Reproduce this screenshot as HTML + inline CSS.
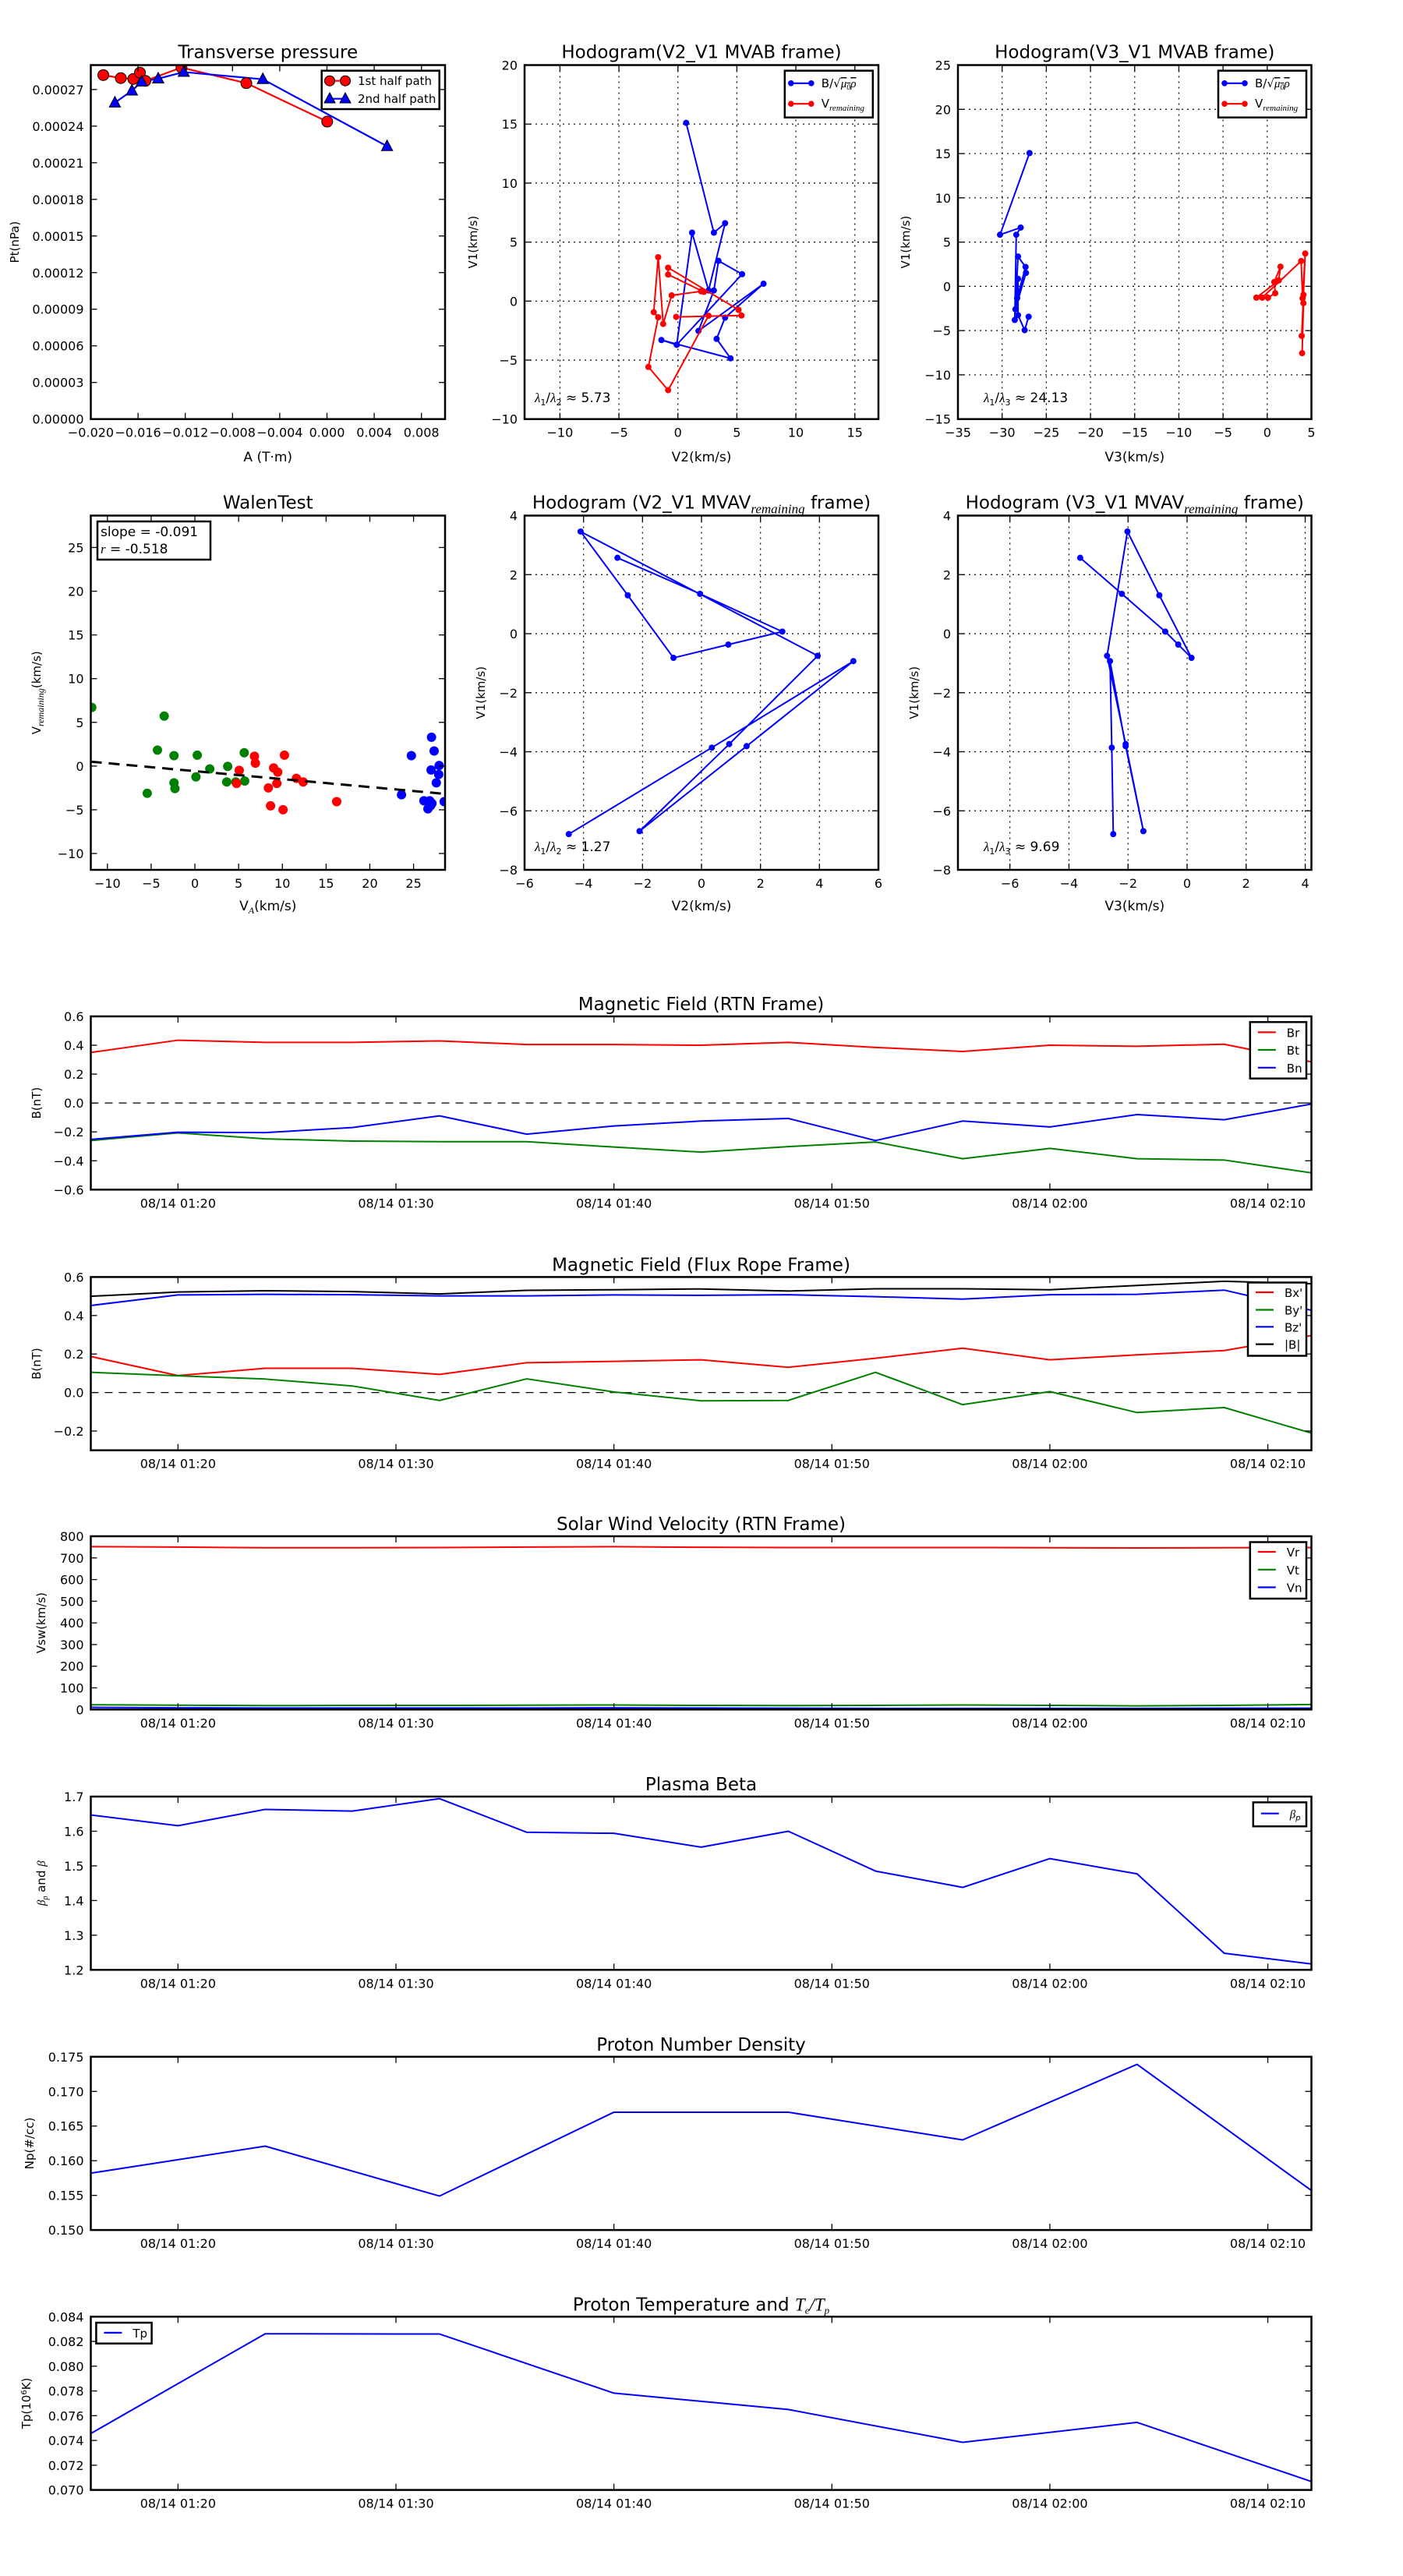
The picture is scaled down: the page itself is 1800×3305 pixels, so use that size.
<!DOCTYPE html>
<html><head><meta charset="utf-8"><title>Flux rope analysis</title>
<style>
html,body{margin:0;padding:0;background:#fff;}
svg text{font-family:"DejaVu Sans","Liberation Sans",sans-serif;fill:#000;}
</style></head>
<body>
<svg id="fig" xmlns="http://www.w3.org/2000/svg" width="1800" height="3300" viewBox="0 0 1800 3300">
<rect x="0" y="0" width="1800" height="3300" fill="#fff"/>
</svg>
<script>
// ---------- Transverse pressure ----------
const tpRedA = [-0.01894,-0.01746,-0.01640,-0.01584,-0.01538,-0.01232,-0.00683,0.00002];
const tpRedPt = [0.0002818,0.0002793,0.0002786,0.0002838,0.0002771,0.0002880,0.0002752,0.0002437];
const tpBlueA = [-0.01796,-0.01652,-0.01569,-0.01429,-0.01213,-0.00543,0.00509];
const tpBluePt = [0.0002592,0.0002690,0.0002764,0.0002789,0.0002843,0.0002784,0.0002235];
// ---------- Hodogram V2-V1 MVAB ----------
const h1BlueV2 = [0.7,3.05,4.0,2.6,1.2,-0.1,-1.4,4.46,3.28,4.0,7.26,1.74,3.05,3.44,5.44,-0.1];
const h1BlueV1 = [15.1,5.8,6.6,0.9,5.8,-3.7,-3.3,-4.85,-3.2,-1.4,1.47,-2.53,0.9,3.41,2.28,-3.7];
const h1RedV2 = [-0.15,5.39,5.14,-0.83,-0.83,2.2,1.96,-0.53,-1.25,-1.67,-2.05,-1.67,-2.5,-0.83,2.6];
const h1RedV1 = [-1.34,-1.22,-0.74,2.83,2.25,0.78,0.83,0.48,-1.93,3.72,-0.94,-1.37,-5.58,-7.55,-1.24];
// ---------- Hodogram V3-V1 MVAB ----------
const h2BlueV3 = [-26.9,-30.24,-27.9,-28.4,-28.57,-28.2,-27.35,-28.3,-27.3,-28.5,-28.2,-28.2,-27.45,-27.0];
const h2BlueV1 = [15.06,5.83,6.64,5.83,-3.8,3.37,2.19,-1.34,1.52,-2.59,0.85,-3.26,-4.95,-3.43];
const h2RedV3 = [0.09,0.9,0.8,1.5,1.3,-1.23,-0.57,3.84,4.0,4.3,4.1,3.9,4.1,3.95];
const h2RedV1 = [-1.28,-0.78,0.5,2.22,0.67,-1.28,-1.28,2.86,-1.35,3.71,-0.95,-5.6,-1.9,-7.55];
// ---------- Walen test ----------
const walGreenVA = [-11.79,-3.51,-4.28,-2.39,0.27,5.64,-5.45,-2.39,-2.28,0.12,1.7,3.75,3.64,4.67,5.69];
const walGreenV = [6.71,5.72,1.83,1.19,1.25,1.53,-3.11,-1.92,-2.57,-1.24,-0.32,-0.04,-1.82,-1.82,-1.71];
const walRedVA = [6.81,6.91,10.24,5.07,9.0,9.47,11.61,12.38,4.77,8.4,9.37,8.65,10.08,16.21];
const walRedV = [1.12,0.33,1.25,-0.49,-0.21,-0.69,-1.41,-1.82,-1.99,-2.5,-1.99,-4.55,-4.99,-4.07];
const walBlueVA = [27.05,27.35,24.75,27.0,27.92,27.87,27.6,23.62,28.5,26.18,26.84,27.1,26.94,26.64];
const walBlueV = [3.3,1.73,1.19,-0.45,0.06,-0.96,-1.92,-3.28,-4.07,-3.97,-3.97,-4.27,-4.55,-4.89];
const walFitSlope = -0.091;
const walFitIntercept = -0.58;
// ---------- Hodograms MVAV ----------
const mvV2 = [-2.85,-0.05,2.74,0.91,-0.95,-2.5,-4.1,3.94,0.94,-2.1,1.53,5.15,0.35,-4.5];
const mvV1 = [2.57,1.35,0.07,-0.37,-0.82,1.3,3.46,-0.75,-3.74,-6.69,-3.81,-0.93,-3.86,-6.79];
const mvV3 = [-3.62,-2.21,-0.74,-0.3,0.15,-0.94,-2.02,-2.71,-2.08,-1.48,-2.08,-2.61,-2.55,-2.5];
// ---------- Time series (minutes after 01:00) ----------
const timeMin = [16,20,24,28,32,36,40,44,48,52,56,60,64,68,72];
const timeTicks = [20,30,40,50,60,70];
const timeTickLabels = ["08/14 01:20","08/14 01:30","08/14 01:40","08/14 01:50","08/14 02:00","08/14 02:10"];
const Br = [0.35,0.435,0.42,0.42,0.43,0.405,0.405,0.40,0.42,0.385,0.357,0.40,0.393,0.407,0.285];
const Bt = [-0.26,-0.207,-0.248,-0.264,-0.268,-0.268,-0.305,-0.34,-0.302,-0.27,-0.386,-0.314,-0.386,-0.395,-0.484];
const Bn = [-0.252,-0.202,-0.205,-0.17,-0.089,-0.216,-0.159,-0.125,-0.107,-0.26,-0.125,-0.166,-0.08,-0.116,-0.007];
const Bxp = [0.187,0.088,0.126,0.126,0.094,0.155,0.162,0.17,0.131,0.178,0.23,0.17,0.196,0.218,0.296];
const Byp = [0.105,0.087,0.07,0.034,-0.041,0.071,0.003,-0.043,-0.041,0.105,-0.063,0.005,-0.104,-0.078,-0.211];
const Bzp = [0.452,0.507,0.51,0.508,0.502,0.502,0.507,0.505,0.508,0.498,0.485,0.508,0.51,0.532,0.427];
const Bmag = [0.5,0.522,0.529,0.524,0.512,0.531,0.534,0.538,0.527,0.539,0.539,0.534,0.556,0.578,0.565];
const Vr = [752,750,747,747,748,750,752,749,748,748,748,747,746,747,748];
const Vt = [22,20,18,19,19,20,21,19,18,19,21,19,17,19,23];
const Vn = [10,8,7,7,7,7,8,7,6,5,5,5,5,6,6];
const betaP = [1.647,1.616,1.663,1.658,1.694,1.597,1.594,1.554,1.6,1.485,1.438,1.521,1.477,1.248,1.217];
const npTime = [16,24,32,40,48,56,64,72];
const Np = [0.1582,0.1621,0.1549,0.1670,0.1670,0.1630,0.1739,0.1557];
const Tp = [0.07456,0.08262,0.0826,0.07782,0.0765,0.07385,0.07546,0.07068];

const NS = 'http://www.w3.org/2000/svg';
const svg = document.getElementById('fig');
function mk(tag, attrs, parent){
  const e = document.createElementNS(NS, tag);
  for (const k in attrs) e.setAttribute(k, attrs[k]);
  parent.appendChild(e);
  return e;
}
function txt(parent, x, y, s, size, anchor, extra){
  const t = mk('text', Object.assign({x:x, y:y, 'font-size':size, 'text-anchor':anchor||'start'}, extra||{}), parent);
  t.textContent = s;
  return t;
}
let clipN = 0;
function axes(p){
  const g = mk('g', {}, svg);
  
  
  const sx = v => p.L + (v - p.x0) / (p.x1 - p.x0) * (p.R - p.L);
  const sy = v => p.B - (v - p.y0) / (p.y1 - p.y0) * (p.B - p.T);
  const id = 'clip' + (clipN++);
  const cp = mk('clipPath', {id:id}, g);
  mk('rect', {x:p.L, y:p.T, width:p.R-p.L, height:p.B-p.T}, cp);
  if (p.grid){
    p.xt.forEach(v => {
      const l = mk('line', {x1:sx(v), x2:sx(v), y1:p.T, y2:p.B, stroke:'#000', 'stroke-width':1.2, 'stroke-dasharray':'2,5'}, g);
      
      
    });
    p.yt.forEach(v => {
      const l = mk('line', {x1:p.L, x2:p.R, y1:sy(v), y2:sy(v), stroke:'#000', 'stroke-width':1.2, 'stroke-dasharray':'2,5'}, g);
      
      
    });
  }
  const data = mk('g', {'clip-path':'url(#'+id+')'}, g);
  
  
  const tl = 8;
  p.xt.forEach((v, i) => {
    const x = sx(v);
    mk('line', {x1:x, x2:x, y1:p.B, y2:p.B-tl, stroke:'#000', 'stroke-width':1.3}, g);
    mk('line', {x1:x, x2:x, y1:p.T, y2:p.T+tl, stroke:'#000', 'stroke-width':1.3}, g);
    const t = txt(g, x, p.B + 23, p.xtl[i], p.fs || 16, 'middle');
    
    
  });
  p.yt.forEach((v, i) => {
    const y = sy(v);
    mk('line', {x1:p.L, x2:p.L+tl, y1:y, y2:y, stroke:'#000', 'stroke-width':1.3}, g);
    mk('line', {x1:p.R, x2:p.R-tl, y1:y, y2:y, stroke:'#000', 'stroke-width':1.3}, g);
    const t = txt(g, p.L - 9, y + 6, p.ytl[i], p.fs || 16, 'end');
    
    
  });
  const fr = mk('rect', {x:p.L, y:p.T, width:p.R-p.L, height:p.B-p.T, fill:'none', stroke:'#000', 'stroke-width':2.5}, g);
  
  
  if (p.title){
    const t = txt(g, (p.L+p.R)/2, p.T - (p.titleGap||9), '', 23, 'middle');
    t.innerHTML = p.title;
    
    
  }
  if (p.xlabel){
    const t = txt(g, (p.L+p.R)/2, p.xlabelY, '', 17, 'middle');
    t.innerHTML = p.xlabel;
    
    
  }
  if (p.ylabel){
    const t = txt(g, 0, 0, '', p.ylfs || 15, 'middle', {transform:'translate('+p.ylabelX+','+((p.T+p.B)/2)+') rotate(-90)'});
    t.innerHTML = p.ylabel;
    
    
  }
  return {g:g, data:data, sx:sx, sy:sy, p:p};
}
function range(a, b, s){ const r=[]; for (let v=a; v<=b+1e-9; v+=s) r.push(Math.round(v*1e6)/1e6); return r; }
function polyline(ax, xs, ys, color, w){
  const pts = xs.map((x, i) => ax.sx(x).toFixed(2) + ',' + ax.sy(ys[i]).toFixed(2)).join(' ');
  return mk('polyline', {points:pts, fill:'none', stroke:color, 'stroke-width':w||2, 'stroke-linejoin':'round'}, ax.data);
}
function dots(ax, xs, ys, color, r, stroke){
  const gg = mk('g', {}, ax.data);
  xs.forEach((x, i) => {
    const c = mk('circle', {cx:ax.sx(x), cy:ax.sy(ys[i]), r:r, fill:color, stroke:stroke||'none', 'stroke-width':1}, gg);
    
    
  });
  return gg;
}
function tris(ax, xs, ys, color, s){
  const gg = mk('g', {}, ax.data);
  xs.forEach((x, i) => {
    const cx = ax.sx(x), cy = ax.sy(ys[i]);
    const t = mk('polygon', {points:(cx)+','+(cy-s)+' '+(cx-s*0.9)+','+(cy+s*0.7)+' '+(cx+s*0.9)+','+(cy+s*0.7), fill:color, stroke:'#000', 'stroke-width':1}, gg);
    
    
  });
  return gg;
}
function legendBox(x, y, w, h){
  const g = mk('g', {}, svg);
  mk('rect', {x:x, y:y, width:w, height:h, fill:'#fff', stroke:'#000', 'stroke-width':2.5}, g);
  return g;
}
const sub = s => '<tspan font-family="Liberation Serif, DejaVu Serif, serif" font-style="italic" font-size="17" dy="6">'+s+'</tspan><tspan dy="-6"> frame)</tspan>';
const lam = (a,b) => '<tspan font-family="Liberation Serif, DejaVu Serif, serif" font-style="italic">λ</tspan><tspan font-size="11" dy="4">'+a+'</tspan><tspan dy="-4">/</tspan><tspan font-family="Liberation Serif, DejaVu Serif, serif" font-style="italic">λ</tspan><tspan font-size="11" dy="4">'+b+'</tspan><tspan dy="-4"> ≈ </tspan>';

// ===== Transverse pressure =====
const ax1 = axes({name:'transverse-pressure-chart', L:116.5, R:571, T:83.5, B:537.7, x0:-0.020, x1:0.010, y0:0, y1:0.00029,
  xt:range(-0.020,0.008,0.004), xtl:['−0.020','−0.016','−0.012','−0.008','−0.004','0.000','0.004','0.008'],
  yt:range(0,0.00027,0.00003), ytl:['0.00000','0.00003','0.00006','0.00009','0.00012','0.00015','0.00018','0.00021','0.00024','0.00027'],
  title:'Transverse pressure', xlabel:'A (T·m)', xlabelY:592, ylabel:'Pt(nPa)', ylabelX:24});
const l1 = polyline(ax1, tpRedA, tpRedPt, '#f00', 2.2);


const l2 = polyline(ax1, tpBlueA, tpBluePt, '#00f', 2.2);


dots(ax1, tpRedA, tpRedPt, '#f00', 7, '#000');
tris(ax1, tpBlueA, tpBluePt, '#00f', 8);
{
  const lg = legendBox(412.7, 90.7, 151, 49.3);
  
  
  mk('line', {x1:423, x2:443, y1:103.7, y2:103.7, stroke:'#f00', 'stroke-width':2.2}, lg);
  mk('circle', {cx:423, cy:103.7, r:6.5, fill:'#f00', stroke:'#000'}, lg);
  mk('circle', {cx:443, cy:103.7, r:6.5, fill:'#f00', stroke:'#000'}, lg);
  const a = txt(lg, 459, 109, '1st half path', 15);
  
  
  mk('line', {x1:423, x2:443, y1:126.7, y2:126.7, stroke:'#00f', 'stroke-width':2.2}, lg);
  mk('polygon', {points:'423,119 416,132 430,132', fill:'#00f', stroke:'#000'}, lg);
  mk('polygon', {points:'443,119 436,132 450,132', fill:'#00f', stroke:'#000'}, lg);
  const b = txt(lg, 459, 132, '2nd half path', 15);
  
  
}

function hodoLegend(x){
  const lg = legendBox(x, 90.7, 113, 60);
  
  
  mk('line', {x1:x+8, x2:x+34, y1:106.8, y2:106.8, stroke:'#00f', 'stroke-width':2.2}, lg);
  mk('circle', {cx:x+8, cy:106.8, r:3.8, fill:'#00f'}, lg);
  mk('circle', {cx:x+34, cy:106.8, r:3.8, fill:'#00f'}, lg);
  const a = txt(lg, x+47, 112, '', 15);
  a.innerHTML = 'B/√<tspan font-family="Liberation Serif, DejaVu Serif, serif" font-style="italic" text-decoration="overline">μ<tspan font-size="10" dy="3">0</tspan><tspan dy="-3">ρ</tspan></tspan>';
  
  
  mk('line', {x1:x+8, x2:x+34, y1:133.2, y2:133.2, stroke:'#f00', 'stroke-width':2.2}, lg);
  mk('circle', {cx:x+8, cy:133.2, r:3.8, fill:'#f00'}, lg);
  mk('circle', {cx:x+34, cy:133.2, r:3.8, fill:'#f00'}, lg);
  const b = txt(lg, x+47, 138, '', 15);
  b.innerHTML = 'V' + '<tspan font-family="Liberation Serif, DejaVu Serif, serif" font-style="italic" font-size="11" dy="4">remaining</tspan>';
  
  
}

// ===== Hodogram V2-V1 MVAB =====
const ax2 = axes({name:'hodogram-v2-v1-mvab', L:673, R:1127, T:83.5, B:537.7, x0:-13, x1:17, y0:-10, y1:20,
  xt:range(-10,15,5), xtl:['−10','−5','0','5','10','15'], yt:range(-10,20,5), ytl:['−10','−5','0','5','10','15','20'], grid:true,
  title:'Hodogram(V2_V1 MVAB frame)', xlabel:'V2(km/s)', xlabelY:592, ylabel:'V1(km/s)', ylabelX:612});
const h1b = polyline(ax2, h1BlueV2, h1BlueV1, '#00f', 2);


dots(ax2, h1BlueV2, h1BlueV1, '#00f', 4);
const h1r = polyline(ax2, h1RedV2, h1RedV1, '#f00', 2);


dots(ax2, h1RedV2, h1RedV1, '#f00', 4);
hodoLegend(1006.8);
{ const t = txt(svg, 686, 516, '', 17); t.innerHTML = lam(1,2) + '5.73';
    }

// ===== Hodogram V3-V1 MVAB =====
const ax3 = axes({name:'hodogram-v3-v1-mvab', L:1229, R:1682.5, T:83.5, B:537.7, x0:-35, x1:5, y0:-15, y1:25,
  xt:range(-35,5,5), xtl:['−35','−30','−25','−20','−15','−10','−5','0','5'], yt:range(-15,25,5), ytl:['−15','−10','−5','0','5','10','15','20','25'], grid:true,
  title:'Hodogram(V3_V1 MVAB frame)', xlabel:'V3(km/s)', xlabelY:592, ylabel:'V1(km/s)', ylabelX:1167});
const h2b = polyline(ax3, h2BlueV3, h2BlueV1, '#00f', 2);


dots(ax3, h2BlueV3, h2BlueV1, '#00f', 4);
const h2r = polyline(ax3, h2RedV3, h2RedV1, '#f00', 2);


dots(ax3, h2RedV3, h2RedV1, '#f00', 4);
hodoLegend(1563);
{ const t = txt(svg, 1262, 516, '', 17); t.innerHTML = lam(1,3) + '24.13';
    }

// ===== Walen test =====
const ax4 = axes({name:'walen-test-chart', L:116.5, R:571, T:661.5, B:1116, x0:-11.9, x1:28.6, y0:-11.87, y1:28.65,
  xt:range(-10,25,5), xtl:['−10','−5','0','5','10','15','20','25'], yt:range(-10,25,5), ytl:['−10','−5','0','5','10','15','20','25'],
  title:'WalenTest', xlabel:'V<tspan font-family="Liberation Serif, DejaVu Serif, serif" font-style="italic" font-size="12" dy="4">A</tspan><tspan dy="-4">(km/s)</tspan>', xlabelY:1168,
  ylabel:'V<tspan font-family="Liberation Serif, DejaVu Serif, serif" font-style="italic" font-size="12" dy="4">remaining</tspan><tspan dy="-4">(km/s)</tspan>', ylabelX:52});
dots(ax4, walGreenVA, walGreenV, '#008000', 6);
dots(ax4, walRedVA, walRedV, '#f00', 6);
dots(ax4, walBlueVA, walBlueV, '#00f', 6);
{
  const fx = [ax4.p.x0, ax4.p.x1];
  const fy = fx.map(v => walFitSlope * v + walFitIntercept);
  const fl = polyline(ax4, fx, fy, '#000', 3);
  fl.setAttribute('stroke-dasharray', '14,9');
  
  
  const bx = legendBox(125, 669, 145, 49);
  
  
  const a = txt(bx, 129, 688, 'slope = ' + walFitSlope.toFixed(3), 17);
  
  
  const b = txt(bx, 129, 710, '', 17);
  b.innerHTML = '<tspan font-family="Liberation Serif, DejaVu Serif, serif" font-style="italic">r</tspan> = -0.518';
  
  
}

// ===== Hodogram V2-V1 MVAV =====
const ax5 = axes({name:'hodogram-v2-v1-mvav', L:673, R:1127, T:661.5, B:1116, x0:-6, x1:6, y0:-8, y1:4,
  xt:range(-6,6,2), xtl:['−6','−4','−2','0','2','4','6'], yt:range(-8,4,2), ytl:['−8','−6','−4','−2','0','2','4'], grid:true,
  title:'Hodogram (V2_V1 MVAV' + sub('remaining'), xlabel:'V2(km/s)', xlabelY:1168, ylabel:'V1(km/s)', ylabelX:622});
const m1 = polyline(ax5, mvV2, mvV1, '#00f', 2);


dots(ax5, mvV2, mvV1, '#00f', 4);
{ const t = txt(svg, 686, 1092, '', 17); t.innerHTML = lam(1,2) + '1.27';
    }

// ===== Hodogram V3-V1 MVAV =====
const ax6 = axes({name:'hodogram-v3-v1-mvav', L:1229, R:1682.5, T:661.5, B:1116, x0:-7.76, x1:4.21, y0:-8, y1:4,
  xt:range(-6,4,2), xtl:['−6','−4','−2','0','2','4'], yt:range(-8,4,2), ytl:['−8','−6','−4','−2','0','2','4'], grid:true,
  title:'Hodogram (V3_V1 MVAV' + sub('remaining'), xlabel:'V3(km/s)', xlabelY:1168, ylabel:'V1(km/s)', ylabelX:1178});
const m2 = polyline(ax6, mvV3, mvV1, '#00f', 2);


dots(ax6, mvV3, mvV1, '#00f', 4);
{ const t = txt(svg, 1262, 1092, '', 17); t.innerHTML = lam(1,3) + '9.69';
    }

// ===== Time series panels =====
function tAxes(name, T, y0, y1, yt, ytl, title, ylabel, ylabelX){
  return axes({name:name, L:116.5, R:1682.5, T:T, B:T+222.3, x0:16, x1:72, y0:y0, y1:y1,
    xt:timeTicks, xtl:timeTickLabels, yt:yt, ytl:ytl, title:title, titleGap:8, ylabel:ylabel, ylabelX:ylabelX, ylfs:15});
}
function zeroLine(ax){
  const z = mk('line', {x1:ax.p.L, x2:ax.p.R, y1:ax.sy(0), y2:ax.sy(0), stroke:'#000', 'stroke-width':1.2, 'stroke-dasharray':'10,8'}, ax.data);
  
  
}
function lineLegend(x, y, w, h, ys, labels, colors, name){
  const lg = legendBox(x, y, w, h);
  
  
  labels.forEach((lab, i) => {
    mk('line', {x1:x+10, x2:x+33, y1:ys[i], y2:ys[i], stroke:colors[i], 'stroke-width':2.2}, lg);
    const t = txt(lg, x+47, ys[i]+6, '', 15);
    t.innerHTML = lab;
    
    
  });
}
// Panel 1
const p1 = tAxes('magnetic-field-rtn-chart', 1304, -0.6, 0.6, range(-0.6,0.6,0.2), ['−0.6','−0.4','−0.2','0.0','0.2','0.4','0.6'], 'Magnetic Field (RTN Frame)', 'B(nT)', 52);
zeroLine(p1);
polyline(p1, timeMin, Br, '#f00', 2);
polyline(p1, timeMin, Bt, '#008000', 2);
polyline(p1, timeMin, Bn, '#00f', 2);
lineLegend(1603.8, 1311.3, 72.2, 72.4, [1324.4,1347,1369.8], ['Br','Bt','Bn'], ['#f00','#008000','#00f'], 'rtn-legend');
// Panel 2
const p2 = tAxes('magnetic-field-flux-rope-chart', 1638.4, -0.3, 0.6, range(-0.2,0.6,0.2), ['−0.2','0.0','0.2','0.4','0.6'], 'Magnetic Field (Flux Rope Frame)', 'B(nT)', 52);
zeroLine(p2);
polyline(p2, timeMin, Bxp, '#f00', 2);
polyline(p2, timeMin, Byp, '#008000', 2);
polyline(p2, timeMin, Bzp, '#00f', 2);
polyline(p2, timeMin, Bmag, '#000', 2);
lineLegend(1601, 1645.5, 75, 94, [1658,1680.5,1702.3,1724.6], ["Bx'","By'","Bz'","|B|"], ['#f00','#008000','#00f','#000'], 'flux-rope-legend');
// Panel 3
const p3 = tAxes('solar-wind-velocity-chart', 1971, 0, 800, range(0,800,100), ['0','100','200','300','400','500','600','700','800'], 'Solar Wind Velocity (RTN Frame)', 'Vsw(km/s)', 58);
polyline(p3, timeMin, Vr, '#f00', 2);
polyline(p3, timeMin, Vt, '#008000', 2);
polyline(p3, timeMin, Vn, '#00f', 2);
lineLegend(1603.8, 1978.5, 72.2, 72.5, [1991,2013.8,2036.5], ['Vr','Vt','Vn'], ['#f00','#008000','#00f'], 'velocity-legend');
// Panel 4
const p4 = tAxes('plasma-beta-chart', 2305, 1.2, 1.7, range(1.2,1.7,0.1), ['1.2','1.3','1.4','1.5','1.6','1.7'], 'Plasma Beta',
  '<tspan font-family="Liberation Serif, DejaVu Serif, serif" font-style="italic">β</tspan><tspan font-family="Liberation Serif, DejaVu Serif, serif" font-style="italic" font-size="10" dy="3">p</tspan><tspan dy="-3"> and </tspan><tspan font-family="Liberation Serif, DejaVu Serif, serif" font-style="italic">β</tspan>', 58);
polyline(p4, timeMin, betaP, '#00f', 2);
lineLegend(1607.8, 2312.4, 68.2, 30.8, [2326.7], ['<tspan font-family="Liberation Serif, DejaVu Serif, serif" font-style="italic">β</tspan><tspan font-size="10" font-style="italic" dy="3">p</tspan>'], ['#00f'], 'beta-legend');
// Panel 5
const p5 = tAxes('proton-density-chart', 2638.8, 0.150, 0.175, range(0.150,0.175,0.005), ['0.150','0.155','0.160','0.165','0.170','0.175'], 'Proton Number Density', 'Np(#/cc)', 43);
polyline(p5, npTime, Np, '#00f', 2);
// Panel 6
const p6 = tAxes('proton-temperature-chart', 2972.3, 0.070, 0.084, range(0.070,0.084,0.002), ['0.070','0.072','0.074','0.076','0.078','0.080','0.082','0.084'],
  'Proton Temperature and <tspan font-family="Liberation Serif, DejaVu Serif, serif" font-style="italic">T</tspan><tspan font-family="Liberation Serif, DejaVu Serif, serif" font-style="italic" font-size="13" dy="4">e</tspan><tspan dy="-4" font-family="Liberation Serif, DejaVu Serif, serif" font-style="italic">/T</tspan><tspan font-family="Liberation Serif, DejaVu Serif, serif" font-style="italic" font-size="13" dy="4">p</tspan>',
  'Tp(10<tspan font-size="10" dy="-5">6</tspan><tspan dy="5">K)</tspan>', 39);
polyline(p6, npTime, Tp, '#00f', 2);
lineLegend(123.4, 2980, 71.2, 26.7, [2992.9], ['Tp'], ['#00f'], 'tp-legend');
</script>
</body></html>
